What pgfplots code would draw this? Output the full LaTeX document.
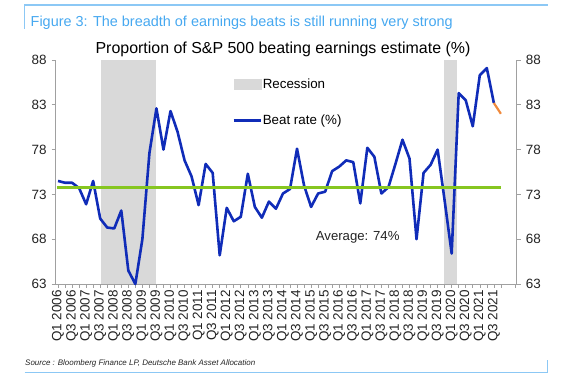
\documentclass[border=0pt]{standalone}
\usepackage{fontspec}
\setmainfont{Liberation Sans}
\usepackage{pgfplots}
\pgfplotsset{compat=1.18}
\definecolor{recgray}{RGB}{217,217,217}
\definecolor{beatblue}{RGB}{16,44,184}
\definecolor{avggreen}{RGB}{134,198,32}
\definecolor{estorange}{RGB}{240,138,60}
\definecolor{capblue}{RGB}{70,168,240}
\definecolor{frameblue}{RGB}{140,200,245}
\definecolor{axgray}{RGB}{160,160,160}
\definecolor{txt}{RGB}{35,35,35}
\begin{document}
\begin{tikzpicture}
\useasboundingbox (0bp,0bp) rectangle (568bp,381bp);
% frame
\draw[frameblue, line width=1.2bp] (24.5bp,352bp) -- (24.5bp,376bp) -- (547.5bp,376bp);
\draw[frameblue, line width=1.2bp] (24.5bp,8.5bp) -- (547.5bp,8.5bp) -- (547.5bp,21bp);
\node[anchor=base west, text=capblue, inner sep=0pt, font=\fontsize{14.5}{16}\selectfont] at (30.5bp,354bp) {Figure 3: The breadth of earnings beats is still running very strong};
\node[anchor=base west, text=txt, inner sep=0pt, font=\fontsize{8}{9}\selectfont\itshape] at (25bp,16bp) {Source : Bloomberg Finance LP, Deutsche Bank Asset Allocation};
\node[anchor=base, text=black, inner sep=0pt, font=\fontsize{16}{18}\selectfont] at (283bp,327.5bp) {Proportion of S\&P 500 beating earnings estimate (\%)};

\begin{axis}[
  at={(55.7bp,97bp)}, anchor=south west, scale only axis,
  width=461bp, height=224bp,
  xmin=-0.33, xmax=65.25, ymin=63, ymax=88,
  axis x line*=bottom, axis y line*=left,
  axis line style={draw=axgray, line width=0.7bp},
  ytick={63,68,73,78,83,88},
  xtick={0,2,...,62},
  minor xtick={1,3,...,65},
  xticklabels={Q1 2006,Q3 2006,Q1 2007,Q3 2007,Q1 2008,Q3 2008,Q1 2009,Q3 2009,Q1 2010,Q3 2010,Q1 2011,Q3 2011,Q1 2012,Q3 2012,Q1 2013,Q3 2013,Q1 2014,Q3 2014,Q1 2015,Q3 2015,Q1 2016,Q3 2016,Q1 2017,Q3 2017,Q1 2018,Q3 2018,Q1 2019,Q3 2019,Q1 2020,Q3 2020,Q1 2021,Q3 2021},
  tick align=outside, major tick length=4bp, minor tick length=4bp,
  every tick/.style={draw=axgray, line width=0.6bp},
  /pgf/number format/assume math mode=true,
  tick label style={font=\fontsize{13.5}{15}\selectfont, text=txt},
  xticklabel style={rotate=90, anchor=east, inner sep=2bp},
  yticklabel style={inner sep=5bp},
  legend style={at={(0.3825,0.922)}, anchor=north west, draw=none, fill=none,
    font=\fontsize{13.4}{15}\selectfont, row sep=23bp, inner sep=0pt,
    nodes={inner sep=1bp}, cells={anchor=west}},
  clip=false,
]
\addplot[fill=recgray, draw=none, area legend,
  legend image code/.code={\fill[recgray] (0bp,-5.5bp) rectangle (28bp,5.5bp);}]
  coordinates {(6.05,63) (6.05,88) (13.95,88) (13.95,63)} -- cycle;
\addlegendentry{Recession}
\addplot[fill=recgray, draw=none, forget plot]
  coordinates {(54.95,63) (54.95,88) (56.75,88) (56.75,63)} -- cycle;
\addplot[beatblue, line width=2.6bp, line join=round, mark=none,
  legend image code/.code={\draw[beatblue, line width=2.6bp] (0bp,0bp) -- (27bp,0bp);}]
  coordinates {
  (0,74.5) (1,74.3) (2,74.3) (3,73.7) (4,71.9) (5,74.5) (6,70.3) (7,69.3)
  (8,69.2) (9,71.2) (10,64.5) (11,63.0) (12,68.0) (13,77.6) (14,82.6) (15,78.0)
  (16,82.3) (17,80.0) (18,76.8) (19,75.0) (20,71.8) (21,76.4) (22,75.4) (23,66.2)
  (24,71.5) (25,70.0) (26,70.5) (27,75.3) (28,71.6) (29,70.4) (30,72.2) (31,71.4)
  (32,73.1) (33,73.6) (34,78.1) (35,74.0) (36,71.6) (37,73.1) (38,73.3) (39,75.6)
  (40,76.1) (41,76.8) (42,76.6) (43,72.0) (44,78.2) (45,77.2) (46,73.1) (47,73.8)
  (48,76.4) (49,79.1) (50,77.0) (51,68.0) (52,75.4) (53,76.3) (54,78.0) (55,72.3)
  (56,66.4) (57,84.3) (58,83.5) (59,80.6) (60,86.3) (61,87.1) (62,83.2)
  };
\addlegendentry{Beat rate (\%)}
\addplot[estorange, line width=2.2bp, forget plot] coordinates {(62,83.2) (63,82.0)};
\addplot[avggreen, line width=3bp, forget plot] coordinates {(-0.1,73.8) (63,73.8)};
\node[anchor=west, inner sep=0pt, text=txt, font=\fontsize{13.2}{15}\selectfont] at (axis cs:36.66,68.25) {Average: 74\%};
\end{axis}

\begin{axis}[
  at={(55.7bp,97bp)}, anchor=south west, scale only axis,
  width=461bp, height=224bp,
  xmin=-0.33, xmax=65.25, ymin=63, ymax=88,
  axis y line*=right, axis x line=none,
  axis line style={draw=axgray, line width=0.7bp},
  ytick={63,68,73,78,83,88}, xtick=\empty,
  tick align=outside, major tick length=4bp,
  every tick/.style={draw=axgray, line width=0.6bp},
  /pgf/number format/assume math mode=true,
  tick label style={font=\fontsize{13.5}{15}\selectfont, text=txt},
  yticklabel style={inner sep=5bp},
]
\addplot[draw=none, forget plot] coordinates {(0,70)};
\end{axis}
\end{tikzpicture}
\end{document}
